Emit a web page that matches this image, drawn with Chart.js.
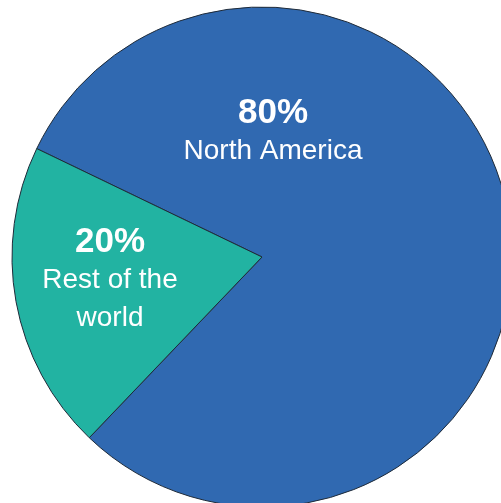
<!DOCTYPE html>
<html>
<head>
<meta charset="utf-8">
<script src="https://cdn.jsdelivr.net/npm/chart.js@4.4.0/dist/chart.umd.min.js"></script>
<style>
  html, body { margin: 0; padding: 0; background: #fff; overflow: hidden; }
  #wrap { position: absolute; left: 0; top: 0; width: 524px; height: 514px; }
</style>
</head>
<body>
<div id="wrap"><canvas id="pie" width="524" height="514"></canvas></div>
<script>
// données du graphique
const regions = ['North America', 'Rest of the world'];
const shares = [80, 20];
const sliceColors = ['#3069b1', '#22b3a2'];
// texte des étiquettes (pourcentage + lignes du nom)
const labelLines = [['North America'], ['Rest of the', 'world']];
// décalage des étiquettes par rapport au centre du camembert
const labelOffsets = [[11, -144], [-152, -15]];

const labelPlugin = {
  id: 'sliceLabels',
  afterDatasetsDraw(chart) {
    const ctx = chart.ctx;
    const arcs = chart.getDatasetMeta(0).data;
    ctx.save();
    ctx.fillStyle = '#ffffff';
    ctx.textAlign = 'center';
    ctx.textBaseline = 'middle';
    arcs.forEach((arc, i) => {
      const x = arc.x + labelOffsets[i][0];
      let y = arc.y + labelOffsets[i][1];
      ctx.font = 'bold 35px "Liberation Sans", Arial, sans-serif';
      ctx.fillText(shares[i] + '%', x, y);
      ctx.font = '28px "Liberation Sans", Arial, sans-serif';
      labelLines[i].forEach(line => {
        y += 38;
        ctx.fillText(line, x, y);
      });
    });
    ctx.restore();
  }
};

new Chart(document.getElementById('pie'), {
  type: 'pie',
  data: {
    labels: regions,
    datasets: [{
      data: shares,
      backgroundColor: sliceColors,
      borderColor: '#1e2a38',
      borderWidth: 1
    }]
  },
  options: {
    responsive: false,
    animation: false,
    rotation: -64.3,
    radius: 250,
    layout: { padding: { left: 12, right: 12, top: 7, bottom: 7 } },
    plugins: {
      legend: { display: false },
      tooltip: { enabled: false }
    }
  },
  plugins: [labelPlugin]
});
</script>
</body>
</html>
